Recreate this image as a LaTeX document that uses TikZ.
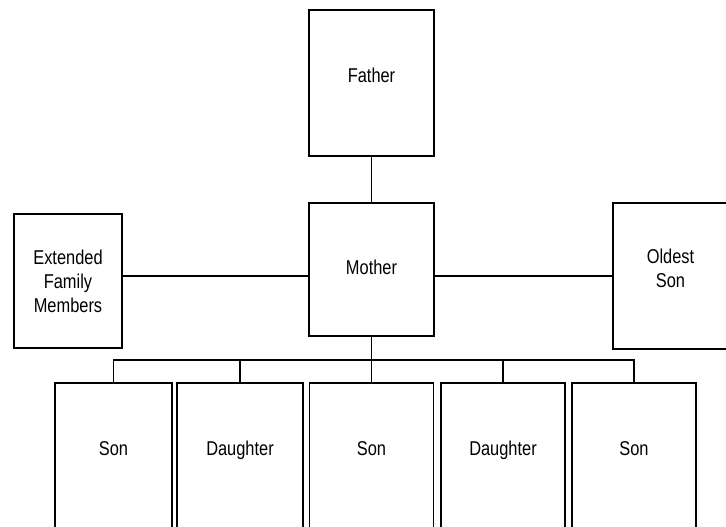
\documentclass[tikz,border=0pt]{standalone}
\usepackage{fontspec}
\setmainfont{Liberation Sans}[FakeStretch=0.82]

\begin{document}
\begin{tikzpicture}[
    x = 1pt,
    y = -1pt,
    line width = 1.8pt,
    align = center,
    every node/.style = {draw, font = \fontsize{20}{24}\selectfont},
    member/.style = {rectangle, inner sep = 0pt},
    child/.style = {member, minimum height = 157pt, lift = 27pt},
    lift/.style = {text height = 14pt, text depth = #1}
  ]
    \clip (0, 0) rectangle (726, 527);
    \node[member, minimum width = 125pt, minimum height = 146pt, lift = 16pt] (father) at (371.5, 83) {Father};
    \node[member, minimum width = 125pt, minimum height = 133pt, lift = 5pt] (mother) at (371.5, 269.5) {Mother};
    \node[member, minimum width = 108pt, minimum height = 134pt] (extended) at (68, 281) {Extended\\Family\\Members};
    \node[member, minimum width = 115pt, minimum height = 146pt, text depth = 16pt] (oldest) at (670.5, 276) {Oldest\\Son};
    \node[child, minimum width = 117pt] (son_a) at (113.5, 461.5) {Son};
    \node[child, minimum width = 126pt] (daughter_a) at (240, 461.5) {Daughter};
    \node[child, minimum width = 124pt] (son_b) at (371.5, 461.5) {Son};
    \node[child, minimum width = 124pt] (daughter_b) at (503, 461.5) {Daughter};
    \node[child, minimum width = 124pt] (son_c) at (634, 461.5) {Son};
    \coordinate (row) at (0, 276);
    \coordinate (bar) at (0, 360);
    \draw (father) -- (mother);
    \draw (extended.east |- row) -- (mother.west |- row);
    \draw (mother.east |- row) -- (oldest.west |- row);
    \draw (mother) -- (son_b);
    \draw (son_a.north) -- (son_a |- bar) -- (son_c |- bar) -- (son_c.north);
    \draw (daughter_a.north) -- (daughter_a |- bar);
    \draw (daughter_b.north) -- (daughter_b |- bar);
  \end{tikzpicture}
\end{document}
